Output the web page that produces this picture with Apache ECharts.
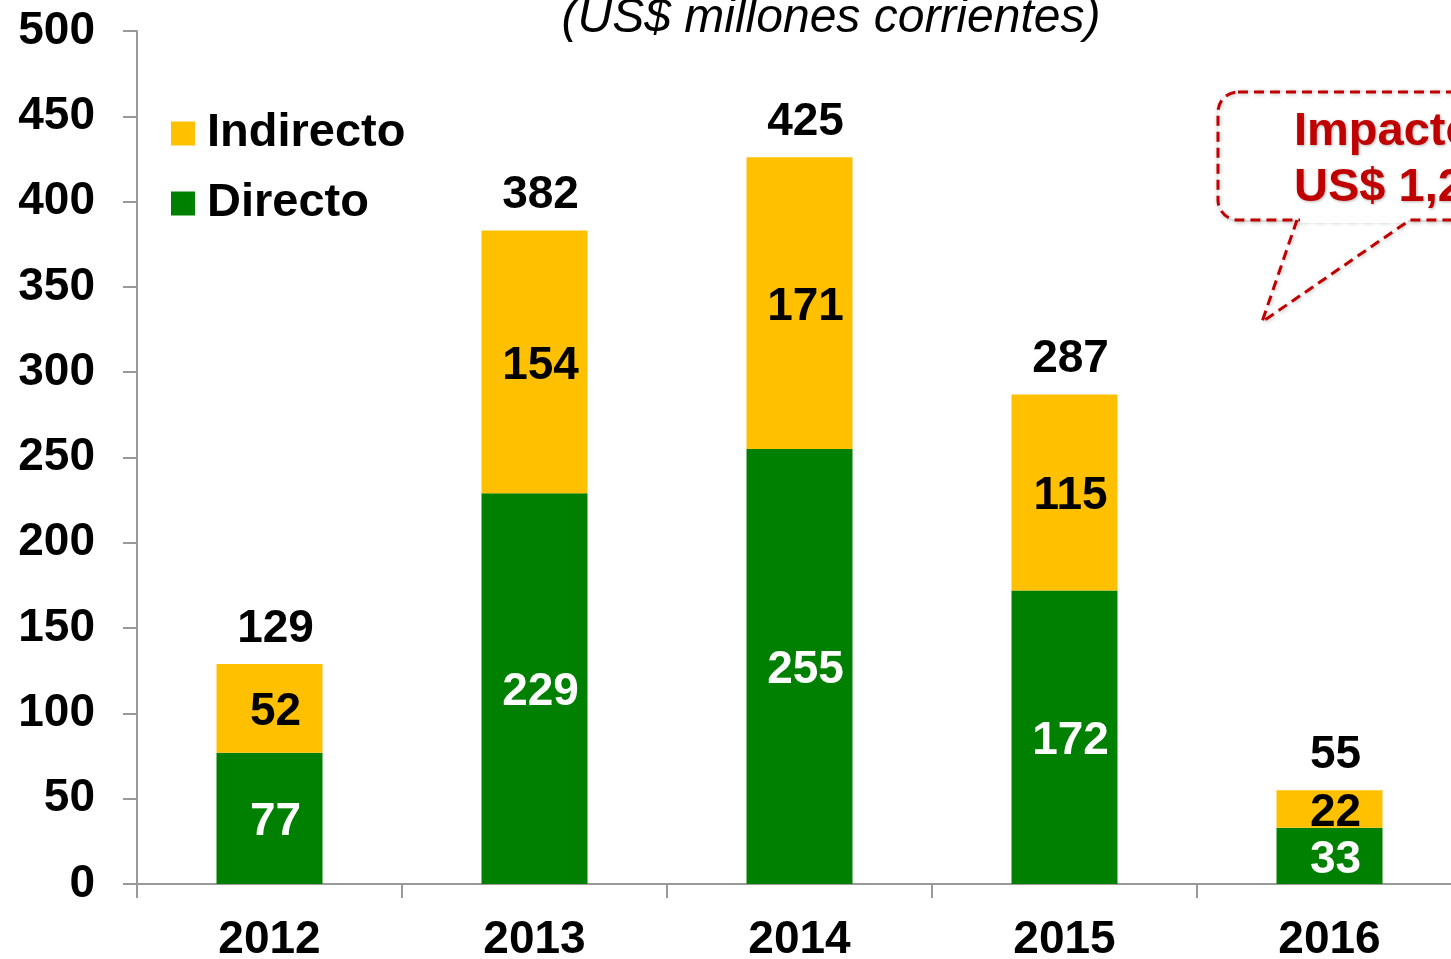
<!DOCTYPE html>
<html>
<head>
<meta charset="utf-8">
<script src="https://cdn.jsdelivr.net/npm/echarts@6/dist/echarts.min.js"></script>
<style>
  html, body { margin: 0; padding: 0; background: #fff; }
  #main { width: 1451px; height: 959px; }
</style>
</head>
<body>
<div id="main"></div>
<script>
// datos del grafico
var years = ['2012', '2013', '2014', '2015', '2016'];
var directo = [77, 229, 255, 172, 33];
var indirecto = [52, 154, 171, 115, 22];
var totales = [129, 382, 425, 287, 55];
var yTicks = [0, 500, 50]; // min, max, intervalo

var FONT = '"Liberation Sans", Arial, sans-serif';
var RED = '#C00000';
var myChart = echarts.init(document.getElementById('main'));

var option = {
  backgroundColor: '#fff',
  animation: false,
  textStyle: { fontFamily: FONT },
  title: {
    text: '(US$ millones corrientes)',
    left: 826, top: -10,
    textAlign: 'center',
    textStyle: { fontFamily: FONT, fontSize: 48, fontStyle: 'italic', fontWeight: 'normal', color: '#000' }
  },
  legend: {
    data: ['Indirecto', 'Directo'],
    orient: 'vertical',
    left: 171, top: 110,
    padding: 0,
    itemWidth: 24, itemHeight: 24,
    itemGap: 23,
    icon: 'rect',
    textStyle: { fontFamily: FONT, fontSize: 47, fontWeight: 'bold', color: '#000', padding: [0, 0, 0, 7] }
  },
  grid: { left: 137, width: 1325, top: 31, bottom: 75, outerBoundsMode: 'none' },
  xAxis: {
    type: 'category',
    data: years,
    axisLine: { lineStyle: { color: '#999', width: 2 } },
    axisTick: { show: true, length: 14, lineStyle: { color: '#999', width: 2 } },
    axisLabel: { margin: 33, fontFamily: FONT, fontSize: 46, fontWeight: 'bold', color: '#000' }
  },
  yAxis: {
    type: 'value',
    min: yTicks[0], max: yTicks[1], interval: yTicks[2],
    splitLine: { show: false },
    axisLine: { show: true, lineStyle: { color: '#999', width: 2 } },
    axisTick: { show: true, length: 14, lineStyle: { color: '#999', width: 2 } },
    axisLabel: { margin: 42, fontFamily: FONT, fontSize: 46, fontWeight: 'bold', color: '#000' }
  },
  series: [
    {
      name: 'Directo', type: 'bar', stack: 'total', barWidth: 106,
      itemStyle: { color: '#008000' },
      label: { show: true, position: 'inside', offset: [6, 4], fontFamily: FONT, fontSize: 46, fontWeight: 'bold', color: '#fff' },
      data: directo
    },
    {
      name: 'Indirecto', type: 'bar', stack: 'total', barWidth: 106,
      itemStyle: { color: '#FFC000' },
      label: { show: true, position: 'inside', offset: [6, 4], fontFamily: FONT, fontSize: 46, fontWeight: 'bold', color: '#000' },
      data: indirecto
    },
    {
      name: 'Total', type: 'bar', stack: 'total', barWidth: 106,
      itemStyle: { color: 'transparent' },
      label: {
        show: true, position: 'top', distance: 12, offset: [6, 0],
        fontFamily: FONT, fontSize: 46, fontWeight: 'bold', color: '#000',
        formatter: function (p) { return totales[p.dataIndex]; }
      },
      data: years.map(function () { return 0; })
    }
  ],
  graphic: [
    // globo de dialogo
    {
      type: 'rect',
      shape: { x: 1218, y: 92, width: 320, height: 128, r: 20 },
      style: { fill: '#fff', stroke: RED, lineWidth: 3, lineDash: [10, 6], shadowBlur: 4, shadowColor: 'rgba(0,0,0,0.25)', shadowOffsetX: 1, shadowOffsetY: 1 }
    },
    {
      type: 'line',
      shape: { x1: 1300, y1: 220, x2: 1408, y2: 220 },
      style: { stroke: '#fff', lineWidth: 6 }
    },
    {
      type: 'polyline',
      shape: { points: [[1297, 220], [1262, 322], [1410, 220]] },
      style: { stroke: RED, lineWidth: 3, lineDash: [10, 6], fill: null, shadowBlur: 4, shadowColor: 'rgba(0,0,0,0.25)', shadowOffsetX: 1, shadowOffsetY: 1 }
    },
    {
      type: 'text', left: 1294, top: 104,
      style: {
        text: 'Impacto total\nUS$ 1,278 millones',
        font: 'bold 47px ' + FONT, fill: RED, lineHeight: 56,
        textShadowBlur: 3, textShadowColor: 'rgba(0,0,0,0.3)', textShadowOffsetX: 1, textShadowOffsetY: 1
      }
    }
  ]
};
myChart.setOption(option);
</script>
</body>
</html>
